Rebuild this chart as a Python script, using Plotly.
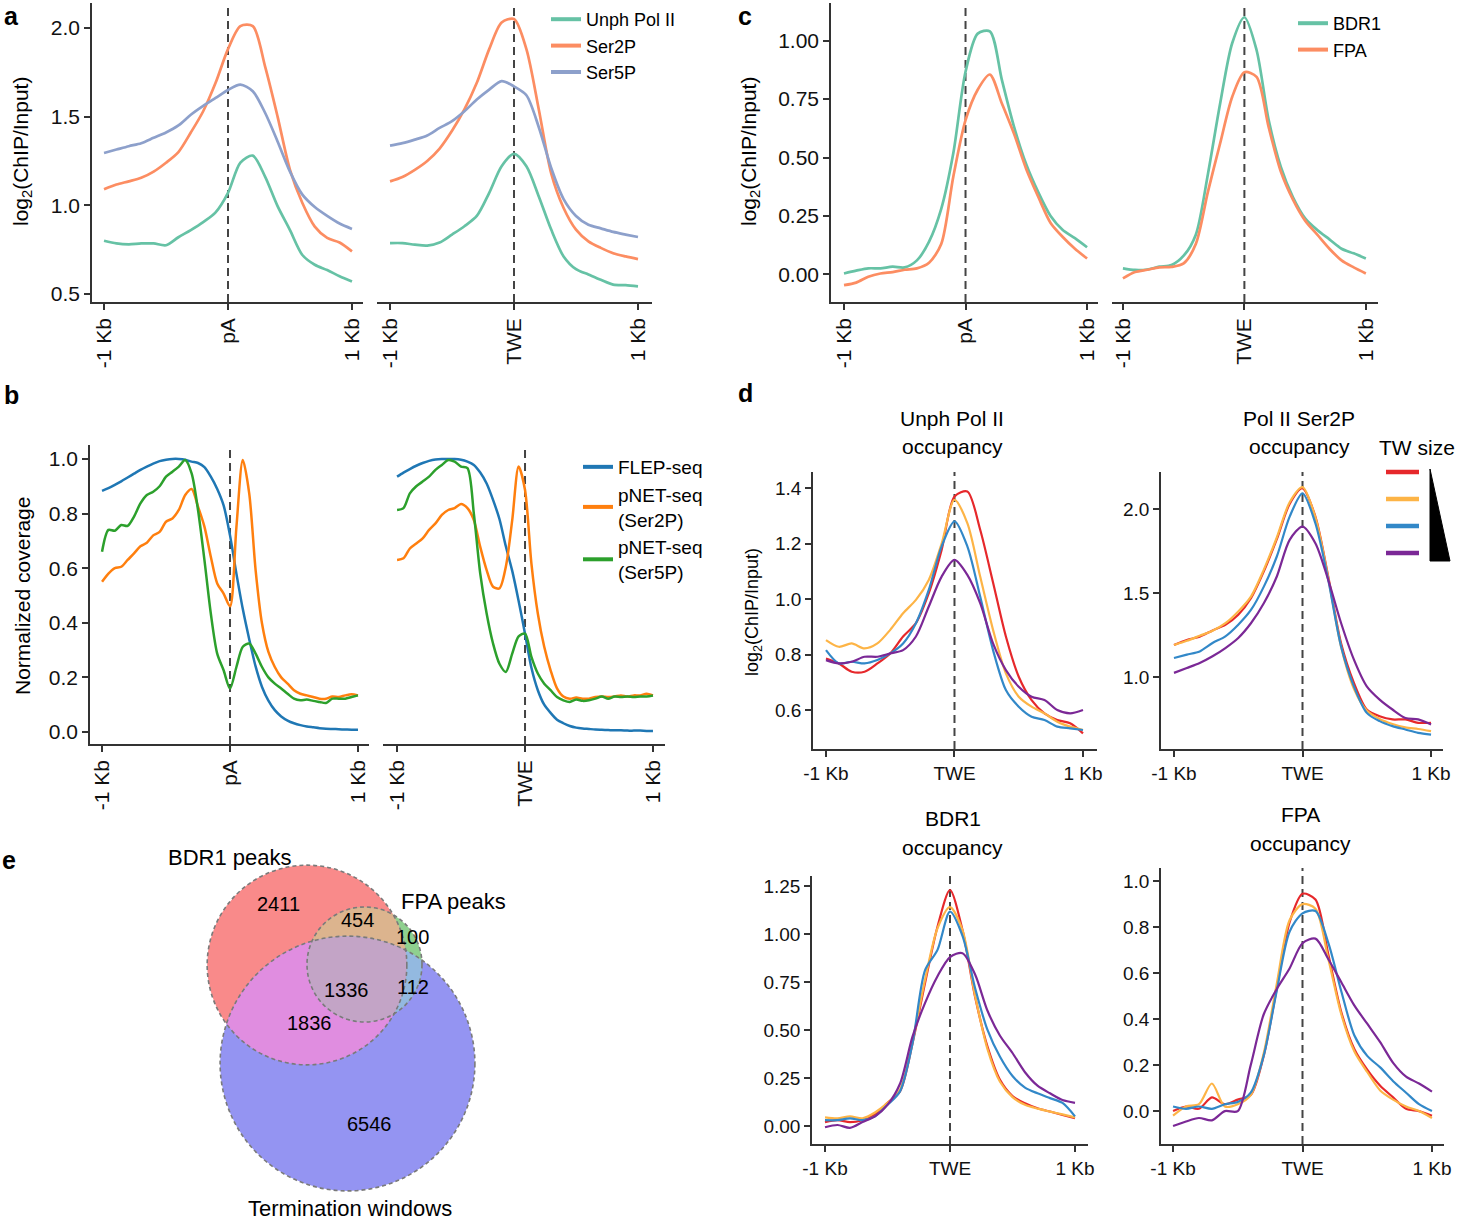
import numpy as np
import plotly.graph_objects as go

W, H = 1459, 1221

# ---------------- data ----------------
POS21 = [-1.0, -0.9, -0.8, -0.7, -0.6, -0.5, -0.4, -0.3, -0.2, -0.1, 0.0,
         0.1, 0.2, 0.3, 0.4, 0.5, 0.6, 0.7, 0.8, 0.9, 1.0]
POS41 = [-1.0, -0.95, -0.9, -0.85, -0.8, -0.75, -0.7, -0.65, -0.6, -0.55, -0.5,
         -0.45, -0.4, -0.35, -0.3, -0.25, -0.2, -0.15, -0.1, -0.05, 0.0,
         0.05, 0.1, 0.15, 0.2, 0.25, 0.3, 0.35, 0.4, 0.45, 0.5,
         0.55, 0.6, 0.65, 0.7, 0.75, 0.8, 0.85, 0.9, 0.95, 1.0]
XTICKS = [-1, 0, 1]
XLAB_PA = ["-1 Kb", "pA", "1 Kb"]
XLAB_TWE = ["-1 Kb", "TWE", "1 Kb"]

# panel a
A_NAMES = ["Unph Pol II", "Ser2P", "Ser5P"]
a_pA_unph = [0.80, 0.785, 0.78, 0.785, 0.785, 0.775, 0.82, 0.86, 0.905, 0.96, 1.07,
             1.24, 1.28, 1.16, 0.995, 0.86, 0.72, 0.665, 0.635, 0.60, 0.57]
a_pA_ser2 = [1.09, 1.117, 1.135, 1.155, 1.19, 1.24, 1.30, 1.41, 1.53, 1.69, 1.88,
             2.01, 2.01, 1.78, 1.50, 1.20, 1.013, 0.88, 0.816, 0.79, 0.74]
a_pA_ser5 = [1.295, 1.314, 1.333, 1.35, 1.38, 1.41, 1.45, 1.51, 1.56, 1.605, 1.65,
             1.68, 1.643, 1.52, 1.36, 1.19, 1.06, 0.99, 0.94, 0.897, 0.867]
a_TWE_unph = [0.787, 0.787, 0.778, 0.773, 0.79, 0.835, 0.882, 0.94, 1.07, 1.22, 1.29,
              1.22, 1.05, 0.863, 0.712, 0.64, 0.61, 0.58, 0.553, 0.55, 0.543]
a_TWE_ser2 = [1.135, 1.16, 1.20, 1.25, 1.32, 1.42, 1.54, 1.69, 1.88, 2.03, 2.05,
              1.88, 1.54, 1.18, 0.985, 0.863, 0.797, 0.76, 0.73, 0.712, 0.697]
a_TWE_ser5 = [1.336, 1.35, 1.37, 1.393, 1.436, 1.474, 1.53, 1.596, 1.652, 1.70, 1.67,
              1.62, 1.44, 1.21, 1.035, 0.94, 0.89, 0.87, 0.85, 0.835, 0.821]
A_TICKS = [0.5, 1.0, 1.5, 2.0]

# panel b
B_NAMES = ["FLEP-seq", "pNET-seq<br>(Ser2P)", "pNET-seq<br>(Ser5P)"]
b_pA_flep = [0.883, 0.893, 0.905, 0.918, 0.932, 0.946, 0.96, 0.972, 0.983, 0.992, 0.997,
             1.0, 1.0, 0.997, 0.99, 0.985, 0.97, 0.935, 0.89, 0.83, 0.72,
             0.58, 0.45, 0.34, 0.24, 0.165, 0.115, 0.08, 0.057, 0.042, 0.032,
             0.025, 0.02, 0.017, 0.014, 0.012, 0.011, 0.01, 0.009, 0.008, 0.008]
b_pA_ser2 = [0.55, 0.58, 0.60, 0.605, 0.63, 0.654, 0.68, 0.693, 0.72, 0.733, 0.77,
             0.782, 0.813, 0.868, 0.89, 0.825, 0.752, 0.642, 0.544, 0.507, 0.46,
             0.75, 0.996, 0.874, 0.593, 0.397, 0.293, 0.238, 0.20, 0.177, 0.153,
             0.14, 0.134, 0.128, 0.122, 0.122, 0.13, 0.128, 0.134, 0.138, 0.134]
b_pA_ser5 = [0.66, 0.74, 0.737, 0.758, 0.755, 0.789, 0.837, 0.868, 0.88, 0.90, 0.935,
             0.953, 0.972, 0.996, 0.947, 0.813, 0.63, 0.434, 0.287, 0.226, 0.159,
             0.238, 0.312, 0.324, 0.287, 0.238, 0.20, 0.177, 0.159, 0.14, 0.122,
             0.116, 0.119, 0.114, 0.11, 0.106, 0.122, 0.122, 0.122, 0.128, 0.134]
b_TWE_flep = [0.935, 0.95, 0.963, 0.975, 0.985, 0.993, 0.998, 1.0, 1.0, 1.0, 0.997,
              0.99, 0.978, 0.95, 0.91, 0.85, 0.78, 0.68, 0.59, 0.48, 0.36,
              0.235, 0.153, 0.10, 0.07, 0.045, 0.032, 0.022, 0.016, 0.013, 0.011,
              0.009, 0.008, 0.007, 0.006, 0.006, 0.005, 0.005, 0.005, 0.004, 0.004]
b_TWE_ser2 = [0.63, 0.636, 0.672, 0.69, 0.709, 0.74, 0.764, 0.795, 0.813, 0.82, 0.835,
              0.82, 0.776, 0.678, 0.593, 0.532, 0.526, 0.605, 0.776, 0.972, 0.886,
              0.617, 0.434, 0.312, 0.226, 0.16, 0.13, 0.122, 0.126, 0.122, 0.122,
              0.128, 0.13, 0.128, 0.13, 0.134, 0.13, 0.134, 0.134, 0.14, 0.134]
b_TWE_ser5 = [0.813, 0.82, 0.874, 0.90, 0.917, 0.935, 0.96, 0.978, 0.996, 0.99, 0.972,
              0.966, 0.80, 0.58, 0.434, 0.324, 0.25, 0.22, 0.287, 0.35, 0.36,
              0.275, 0.214, 0.177, 0.153, 0.128, 0.116, 0.11, 0.119, 0.114, 0.116,
              0.122, 0.13, 0.122, 0.13, 0.128, 0.13, 0.128, 0.13, 0.13, 0.134]
B_TICKS = [0.0, 0.2, 0.4, 0.6, 0.8, 1.0]

# panel c
C_NAMES = ["BDR1", "FPA"]
c_pA_bdr1 = [0.004, 0.016, 0.026, 0.026, 0.033, 0.03, 0.06, 0.14, 0.28, 0.52, 0.867,
             1.03, 1.04, 0.83, 0.63, 0.47, 0.35, 0.25, 0.19, 0.155, 0.116]
c_pA_fpa = [-0.046, -0.035, -0.01, 0.004, 0.01, 0.02, 0.026, 0.05, 0.13, 0.42, 0.66,
            0.79, 0.855, 0.73, 0.60, 0.45, 0.33, 0.22, 0.16, 0.11, 0.068]
c_TWE_bdr1 = [0.026, 0.019, 0.021, 0.033, 0.04, 0.08, 0.17, 0.43, 0.73, 0.99, 1.10,
              0.96, 0.66, 0.46, 0.33, 0.24, 0.19, 0.15, 0.11, 0.09, 0.068]
c_TWE_fpa = [-0.017, 0.01, 0.02, 0.03, 0.032, 0.047, 0.13, 0.354, 0.56, 0.76, 0.865,
             0.845, 0.63, 0.44, 0.32, 0.23, 0.17, 0.11, 0.06, 0.03, 0.004]
C_TICKS = [0.0, 0.25, 0.5, 0.75, 1.0]

# panel d  (TW size groups, largest -> smallest)
D_TITLES = [("Unph Pol II", "occupancy"), ("Pol II Ser2P", "occupancy"),
            ("BDR1", "occupancy"), ("FPA", "occupancy")]
D_LEGEND_TITLE = "TW size"
d_unph = [
    [0.786, 0.768, 0.738, 0.738, 0.768, 0.804, 0.865, 0.913, 1.021, 1.177, 1.37,
     1.388, 1.25, 1.06, 0.865, 0.72, 0.636, 0.588, 0.564, 0.552, 0.516],
    [0.852, 0.828, 0.84, 0.822, 0.84, 0.889, 0.949, 0.997, 1.069, 1.20, 1.358,
     1.274, 1.081, 0.889, 0.732, 0.648, 0.612, 0.588, 0.558, 0.54, 0.528],
    [0.816, 0.768, 0.774, 0.768, 0.78, 0.804, 0.84, 0.913, 1.033, 1.19, 1.28,
     1.19, 1.009, 0.816, 0.672, 0.612, 0.576, 0.564, 0.54, 0.534, 0.528],
    [0.78, 0.768, 0.774, 0.792, 0.792, 0.804, 0.816, 0.865, 0.973, 1.081, 1.141,
     1.087, 0.985, 0.84, 0.744, 0.684, 0.648, 0.636, 0.60, 0.588, 0.60],
]
d_ser2 = [
    [1.19, 1.22, 1.24, 1.277, 1.31, 1.37, 1.47, 1.63, 1.82, 2.03, 2.123,
     1.955, 1.598, 1.20, 0.964, 0.806, 0.766, 0.747, 0.747, 0.727, 0.727],
    [1.19, 1.215, 1.245, 1.275, 1.32, 1.39, 1.48, 1.64, 1.83, 2.04, 2.13,
     1.95, 1.59, 1.18, 0.93, 0.80, 0.75, 0.72, 0.70, 0.69, 0.677],
    [1.113, 1.133, 1.152, 1.202, 1.242, 1.311, 1.40, 1.539, 1.717, 1.954, 2.093,
     1.915, 1.578, 1.182, 0.944, 0.786, 0.737, 0.707, 0.687, 0.667, 0.657],
    [1.024, 1.053, 1.083, 1.123, 1.172, 1.232, 1.321, 1.44, 1.598, 1.816, 1.895,
     1.796, 1.578, 1.321, 1.103, 0.944, 0.865, 0.806, 0.756, 0.747, 0.717],
]
d_bdr1 = [
    [0.02, 0.03, 0.02, 0.03, 0.06, 0.12, 0.18, 0.43, 0.743, 1.038, 1.229,
     1.02, 0.674, 0.413, 0.24, 0.156, 0.118, 0.092, 0.075, 0.057, 0.04],
    [0.045, 0.04, 0.05, 0.04, 0.07, 0.12, 0.19, 0.44, 0.76, 1.03, 1.14,
     1.02, 0.68, 0.40, 0.23, 0.15, 0.11, 0.09, 0.075, 0.06, 0.045],
    [0.03, 0.03, 0.04, 0.03, 0.05, 0.11, 0.18, 0.43, 0.81, 0.917, 1.116,
     0.99, 0.72, 0.50, 0.36, 0.26, 0.20, 0.17, 0.145, 0.12, 0.05],
    [-0.007, 0.005, -0.01, 0.02, 0.05, 0.11, 0.22, 0.465, 0.64, 0.78, 0.88,
     0.90, 0.79, 0.60, 0.47, 0.38, 0.28, 0.21, 0.17, 0.135, 0.12],
]
d_fpa = [
    [0.0, 0.02, 0.01, 0.06, 0.03, 0.05, 0.07, 0.24, 0.53, 0.82, 0.945,
     0.92, 0.68, 0.43, 0.27, 0.18, 0.11, 0.06, 0.01, 0.0, -0.02],
    [-0.02, 0.02, 0.03, 0.12, 0.02, 0.03, 0.07, 0.25, 0.55, 0.83, 0.90,
     0.88, 0.66, 0.42, 0.26, 0.17, 0.09, 0.05, 0.02, 0.0, -0.03],
    [0.02, 0.01, 0.02, 0.01, 0.03, 0.04, 0.08, 0.24, 0.52, 0.78, 0.86,
     0.87, 0.73, 0.52, 0.33, 0.24, 0.19, 0.13, 0.08, 0.03, 0.0],
    [-0.065, -0.045, -0.03, -0.04, 0.0, 0.0, 0.2, 0.42, 0.53, 0.62, 0.73,
     0.75, 0.66, 0.56, 0.46, 0.38, 0.30, 0.21, 0.15, 0.12, 0.085],
]
D1_TICKS = [0.6, 0.8, 1.0, 1.2, 1.4]
D2_TICKS = [1.0, 1.5, 2.0]
D3_TICKS = [0.0, 0.25, 0.5, 0.75, 1.0, 1.25]
D4_TICKS = [0.0, 0.2, 0.4, 0.6, 0.8, 1.0]

# panel e (Venn region counts)
VENN_LABELS = ["BDR1 peaks", "FPA peaks", "Termination windows"]
V_B_ONLY, V_F_ONLY, V_T_ONLY = 2411, 100, 6546
V_BF, V_BT, V_FT, V_BFT = 454, 1836, 112, 1336

# ---------------- styles ----------------
SET2 = ["#66c2a5", "#fc8d62", "#8da0cb"]
TAB = ["#1f77b4", "#ff7f0e", "#2ca02c"]
TW = ["#e6282b", "#fdb446", "#3288c8", "#7b2896"]
FONT = "Liberation Sans, Arial, sans-serif"
AXC = "#333333"
TXT = "#111111"


def nm(i, c):
    return c if i == 1 else f"{c}{i}"


fig = go.Figure()
layout = {}
shapes = []
annotations = []


def panel(i, px, py, xr, yr, xlab, angle, yticks, yfmt, show_y=True, tsize=21):
    base = dict(showline=True, linecolor=AXC, linewidth=1.5, ticks="outside", ticklen=6,
                tickwidth=1.5, tickcolor=AXC, showgrid=False, zeroline=False, automargin=False,
                tickfont=dict(size=tsize, color=TXT, family=FONT))
    layout[nm(i, "xaxis")] = dict(base, domain=[px[0] / W, px[1] / W], range=xr,
                                  tickvals=XTICKS, ticktext=xlab, tickangle=angle,
                                  anchor=nm(i, "y"))
    ya = dict(base, domain=[1 - py[1] / H, 1 - py[0] / H], range=yr,
              tickvals=yticks, tickformat=yfmt, anchor=nm(i, "x"))
    if not show_y:
        ya["visible"] = False
    layout[nm(i, "yaxis")] = ya
    shapes.append(dict(type="line", xref=nm(i, "x"), yref=nm(i, "y") + " domain",
                       x0=0, x1=0, y0=0, y1=1, layer="below",
                       line=dict(color="#444444", width=2, dash="8px,5px")))


def lines(i, xs, series, colors, width):
    for ys, c in zip(series, colors):
        fig.add_trace(go.Scatter(x=xs, y=ys, xaxis=nm(i, "x"), yaxis=nm(i, "y"), mode="lines",
                                 line=dict(color=c, width=width, shape="spline", smoothing=0.8),
                                 showlegend=False, hoverinfo="skip"))


def legend_items(i, names, colors, legend):
    for n, c in zip(names, colors):
        fig.add_trace(go.Scatter(x=[None], y=[None], xaxis=nm(i, "x"), yaxis=nm(i, "y"),
                                 mode="lines", line=dict(color=c, width=4), name=n,
                                 legend=legend, showlegend=True, hoverinfo="skip"))


# panel a
panel(1, (92, 363), (3, 302), [-1.097, 1.089], [0.455, 2.14], XLAB_PA, -90, A_TICKS, ".1f")
panel(2, (377, 652), (3, 302), [-1.105, 1.113], [0.455, 2.14], XLAB_TWE, -90, A_TICKS, ".1f", show_y=False)
lines(1, POS21, [a_pA_unph, a_pA_ser2, a_pA_ser5], SET2, 2.7)
lines(2, POS21, [a_TWE_unph, a_TWE_ser2, a_TWE_ser5], SET2, 2.7)
legend_items(2, A_NAMES, SET2, "legend")

# panel c
panel(3, (831, 1098), (3, 302), [-1.107, 1.09], [-0.118, 1.161], XLAB_PA, -90, C_TICKS, ".2f")
panel(4, (1112, 1378), (3, 302), [-1.09, 1.1], [-0.118, 1.161], XLAB_TWE, -90, C_TICKS, ".2f", show_y=False)
lines(3, POS21, [c_pA_bdr1, c_pA_fpa], SET2[:2], 2.7)
lines(4, POS21, [c_TWE_bdr1, c_TWE_fpa], SET2[:2], 2.7)
legend_items(4, C_NAMES, SET2[:2], "legend3")

# panel b
panel(5, (90, 369), (445, 744), [-1.094, 1.086], [-0.044, 1.051], XLAB_PA, -90, B_TICKS, ".1f")
panel(6, (383, 665), (445, 744), [-1.11, 1.094], [-0.044, 1.051], XLAB_TWE, -90, B_TICKS, ".1f", show_y=False)
lines(5, POS41, [b_pA_flep, b_pA_ser2, b_pA_ser5], TAB, 2.5)
lines(6, POS41, [b_TWE_flep, b_TWE_ser2, b_TWE_ser5], TAB, 2.5)
legend_items(6, B_NAMES, TAB, "legend2")

# panel d
panel(7, (813, 1097), (472, 749), [-1.101, 1.109], [0.4595, 1.458], XLAB_TWE, 0, D1_TICKS, ".1f", tsize=19)
panel(8, (1161, 1443), (472, 749), [-1.101, 1.093], [0.571, 2.22], XLAB_TWE, 0, D2_TICKS, ".1f", tsize=19)
panel(9, (812, 1088), (876, 1144), [-1.104, 1.104], [-0.094, 1.302], XLAB_TWE, 0, D3_TICKS, ".2f", tsize=19)
panel(10, (1161, 1444), (868, 1144), [-1.093, 1.093], [-0.143, 1.057], XLAB_TWE, 0, D4_TICKS, ".1f", tsize=19)
lines(7, POS21, d_unph, TW, 2.2)
lines(8, POS21, d_ser2, TW, 2.2)
lines(9, POS21, d_bdr1, TW, 2.2)
lines(10, POS21, d_fpa, TW, 2.2)

# TW size key (drawn: colour bars + wedge)
for k, c in enumerate(TW):
    yy = 1 - (472 + 27 * k) / H
    shapes.append(dict(type="line", xref="paper", yref="paper", x0=1386 / W, x1=1419 / W,
                       y0=yy, y1=yy, line=dict(color=c, width=4.5)))
tri = [(1430, 469), (1430, 561), (1450, 561)]
path = "M {} {} L {} {} L {} {} Z".format(*[v for p in tri for v in (p[0] / W, 1 - p[1] / H)])
shapes.append(dict(type="path", xref="paper", yref="paper", path=path,
                   fillcolor="#000", line=dict(color="#000", width=1)))

# panel e : Venn (circle areas follow set totals)
tot_B = V_B_ONLY + V_BF + V_BT + V_BFT
tot_F = V_F_ONLY + V_BF + V_FT + V_BFT
tot_T = V_T_ONLY + V_BT + V_FT + V_BFT
K = 1.285
circ = {
    "B": (307.0, 965.0, K * np.sqrt(tot_B)),
    "F": (364.5, 964.5, K * np.sqrt(tot_F)),
    "T": (347.5, 1063.5, K * np.sqrt(tot_T)),
}
layout["xaxis11"] = dict(domain=[160 / W, 520 / W], range=[160, 520], visible=False,
                         anchor="y11", automargin=False)
layout["yaxis11"] = dict(domain=[0, 1 - 830 / H], range=[1221, 830], visible=False,
                         anchor="x11", automargin=False)

theta = np.linspace(0, 2 * np.pi, 721)


def inside(x, y, c):
    cx, cy, r = circ[c]
    return (x - cx) ** 2 + (y - cy) ** 2 <= r * r + 1e-6


def region(keys):
    pts = []
    for k in keys:
        cx, cy, r = circ[k]
        for t in theta:
            x, y = cx + r * np.cos(t), cy + r * np.sin(t)
            if all(inside(x, y, o) for o in keys if o != k):
                pts.append((x, y))
    pts = np.array(pts)
    mx, my = pts[:, 0].mean(), pts[:, 1].mean()
    order = np.argsort(np.arctan2(pts[:, 1] - my, pts[:, 0] - mx))
    pts = pts[order]
    return list(pts[:, 0]) + [pts[0, 0]], list(pts[:, 1]) + [pts[0, 1]]


venn_fill = [
    (("B",), "#f98a8a"),
    (("T",), "#9494f2"),
    (("F",), "#8fd08f"),
    (("B", "T"), "#e08de0"),
    (("B", "F"), "#dcb48e"),
    (("F", "T"), "#93b9e0"),
    (("B", "F", "T"), "#c3a4c6"),
]
for keys, col in venn_fill:
    xs, ys = region(keys)
    fig.add_trace(go.Scatter(x=xs, y=ys, xaxis="x11", yaxis="y11", mode="lines",
                             fill="toself", fillcolor=col, line=dict(width=0, color=col),
                             showlegend=False, hoverinfo="skip"))
for k in ["B", "F", "T"]:
    cx, cy, r = circ[k]
    shapes.append(dict(type="circle", xref="x11", yref="y11", x0=cx - r, x1=cx + r,
                       y0=cy - r, y1=cy + r, line=dict(color="#7a7a7a", width=1.6, dash="4px,3px")))

venn_text = [
    (VENN_LABELS[0], 230, 857, 22), (VENN_LABELS[1], 453, 901, 22), (VENN_LABELS[2], 350, 1208, 22),
    (str(V_B_ONLY), 278, 904, 20), (str(V_BF), 357, 920, 20), (str(V_F_ONLY), 412, 937, 20),
    (str(V_BFT), 346, 990, 20), (str(V_FT), 413, 987, 20), (str(V_BT), 309, 1023, 20),
    (str(V_T_ONLY), 369, 1124, 20),
]
for t, x, y, s in venn_text:
    annotations.append(dict(text=t, x=x, y=y, xref="x11", yref="y11", showarrow=False,
                            font=dict(size=s, color="#000", family=FONT)))


def pa(text, x, y, size, angle=0, bold=False):
    annotations.append(dict(text=f"<b>{text}</b>" if bold else text, x=x / W, y=1 - y / H,
                            xref="paper", yref="paper", showarrow=False, textangle=angle,
                            xanchor="center", yanchor="middle",
                            font=dict(size=size, color="#000", family=FONT)))


# panel letters
pa("a", 11, 16, 25, bold=True)
pa("b", 11, 395, 25, bold=True)
pa("c", 745, 16, 25, bold=True)
pa("d", 745, 393, 25, bold=True)
pa("e", 9, 860, 25, bold=True)
# y titles
pa("log<sub>2</sub>(ChIP/Input)", 22, 152, 21, angle=-90)
pa("log<sub>2</sub>(ChIP/Input)", 750, 152, 21, angle=-90)
pa("Normalized coverage", 22, 596, 21, angle=-90)
pa("log<sub>2</sub>(ChIP/Input)", 753, 612, 18, angle=-90)
# d titles (two lines each)
for (l1, l2), (x, y) in zip(D_TITLES, [(952, 418), (1299, 418), (953, 818), (1300, 814)]):
    pa(l1, x, y, 21)
    pa(l2, x, y + 29, 21)
pa(D_LEGEND_TITLE, 1417, 448, 21)

leg_common = dict(xanchor="left", yanchor="top", bgcolor="rgba(0,0,0,0)", borderwidth=0,
                  tracegroupgap=0, itemclick=False, itemdoubleclick=False)
layout["legend"] = dict(leg_common, x=546 / W, y=1 - 1 / H,
                        font=dict(size=18, color="#000", family=FONT))
layout["legend2"] = dict(leg_common, x=578 / W, y=1 - 448 / H, valign="middle",
                         font=dict(size=19, color="#000", family=FONT))
layout["legend3"] = dict(leg_common, x=1293 / W, y=1 - 5 / H,
                         font=dict(size=18, color="#000", family=FONT))

fig.update_layout(template="none", width=W, height=H, autosize=False,
                  margin=dict(l=0, r=0, t=0, b=0, pad=0, autoexpand=False),
                  paper_bgcolor="white", plot_bgcolor="white",
                  font=dict(family=FONT, size=20, color=TXT),
                  shapes=shapes, annotations=annotations, **layout)

fig.write_html("out.html", config={"displayModeBar": False, "responsive": False},
               post_script="document.body.style.margin='0px';document.body.style.padding='0px';")
